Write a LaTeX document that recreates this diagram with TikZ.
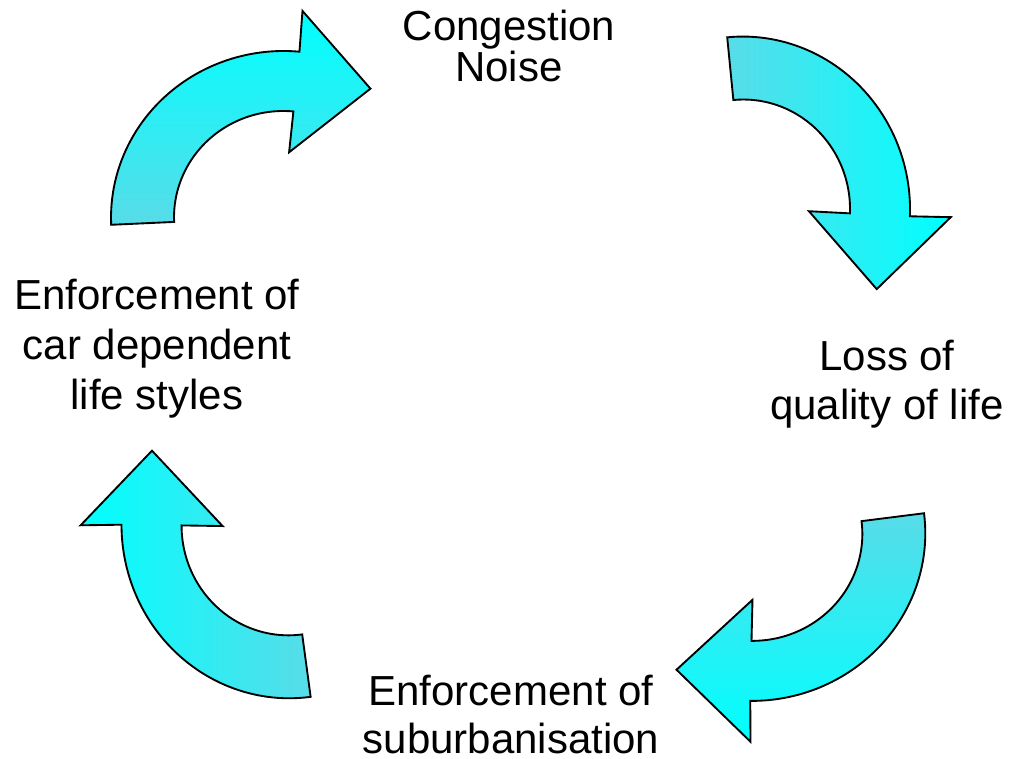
\documentclass[tikz,border=0pt]{standalone}
\usepackage{fontspec}
\setmainfont{Liberation Sans}
\usetikzlibrary{calc}
\definecolor{arrowtail}{RGB}{88,220,232}
\definecolor{arrowhead}{RGB}{0,255,255}
\tikzset{
  curvearrow/.style={draw=black, line width=1.4pt, line join=miter},
  cyclelabel/.style={anchor=base, align=center, inner sep=0pt},
}
\newcommand{\cyclearrow}[1]{%
  \path[curvearrow,#1]
    (180:172 and 166) arc[start angle=180, end angle=82, x radius=172, y radius=166]
    -- (82:207) -- ($(82:136)+(-8:75)$) -- (82:65) -- (82:109 and 106)
    arc[start angle=82, end angle=180, x radius=109, y radius=106] -- cycle;}
\begin{document}
\begin{tikzpicture}[x=0.75pt, y=0.75pt]
\useasboundingbox (0,0) rectangle (1022,758);
% arrows
\begin{scope}[shift={(283,541)}, rotate=2.6]
  \cyclearrow{top color=arrowhead, bottom color=arrowtail}
\end{scope}
\begin{scope}[shift={(744,549.5)}, rotate=-84.4]
  \cyclearrow{left color=arrowtail, right color=arrowhead}
\end{scope}
\begin{scope}[shift={(753.4,223.2)}, rotate=-172.8]
  \cyclearrow{top color=arrowtail, bottom color=arrowhead}
\end{scope}
\begin{scope}[shift={(287.6,231.6)}, rotate=97.7]
  \cyclearrow{left color=arrowhead, right color=arrowtail}
\end{scope}
% labels (base anchor = baseline of the last line)
\node[cyclelabel, font=\fontsize{31.5}{30.75}\selectfont] (congestion) at (509,676.3) {Congestion\\Noise};
\node[cyclelabel, font=\fontsize{31.5}{37.5}\selectfont] (cardep) at (157,348) {Enforcement of\\car dependent\hspace*{0.278em}\\life styles};
\node[cyclelabel, font=\fontsize{31.5}{37}\selectfont] (loss) at (887,338) {Loss of\\quality of life};
\node[cyclelabel, font=\fontsize{31.5}{36}\selectfont] (suburb) at (511,5) {Enforcement of\\suburbanisation};
\end{tikzpicture}
\end{document}
